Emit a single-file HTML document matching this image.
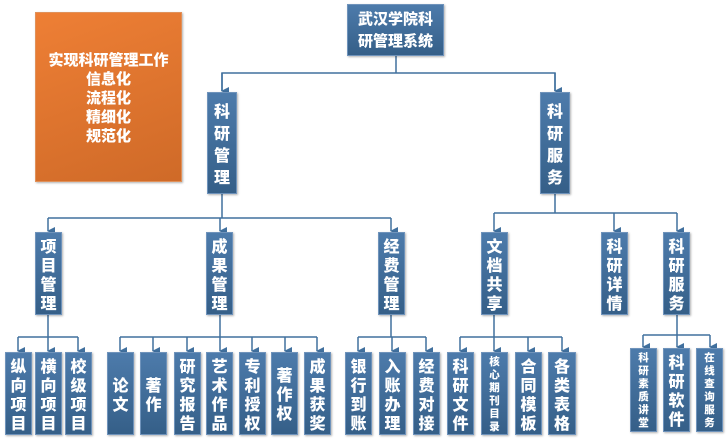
<!DOCTYPE html>
<html><head><meta charset="utf-8"><style>
body{margin:0;width:728px;height:443px;background:#fff;position:relative;overflow:hidden;font-family:"Noto Sans CJK SC","WenQuanYi Zen Hei",sans-serif}
.b{position:absolute;background:linear-gradient(180deg,#4d7bab,#355f88);border:1px solid #6f93bb;box-shadow:1px 1px 2px rgba(0,0,0,.3);color:#fff;font-weight:900;font-size:16px;line-height:19px;display:flex;align-items:center;justify-content:center;text-align:center;box-sizing:border-box}
.s{font-size:10.5px;line-height:13px}
svg{position:absolute;left:0;top:0}
</style></head><body>
<svg width="728" height="443">
<defs><marker id="a" markerWidth="8" markerHeight="8" refX="4" refY="7" orient="auto" markerUnits="userSpaceOnUse"><path d="M0,0 L8,0 L4,8 z" fill="#41709e"/></marker></defs>
<g stroke="#41709e" stroke-width="1.5" fill="none">
<path d="M396 56V73H222V91M396 73H555V91" />
<path d="M222 73V91" marker-end="url(#a)"/><path d="M555 73V91" marker-end="url(#a)"/>
<path d="M222 194V218M48 218H391M614 213H677M494 213H614M555 194V213"/>
<path d="M48 218V231" marker-end="url(#a)"/><path d="M220 218V231" marker-end="url(#a)"/><path d="M391 218V231" marker-end="url(#a)"/>
<path d="M494 213V231" marker-end="url(#a)"/><path d="M614 213V231" marker-end="url(#a)"/><path d="M677 213V231" marker-end="url(#a)"/>
<path d="M48 315V337H18M48 337H78M220 315V337H120M220 337H317M391 315V337H358M391 337H426M494 315V337H460M494 337H562M677 315V335H643M677 335H710"/>
<g>
<path d="M18 337V351" marker-end="url(#a)"/><path d="M48 337V351" marker-end="url(#a)"/><path d="M78 337V351" marker-end="url(#a)"/>
<path d="M120 337V351" marker-end="url(#a)"/><path d="M153 337V351" marker-end="url(#a)"/><path d="M187 337V351" marker-end="url(#a)"/><path d="M220 337V351" marker-end="url(#a)"/><path d="M252 337V351" marker-end="url(#a)"/><path d="M285 337V351" marker-end="url(#a)"/><path d="M317 337V351" marker-end="url(#a)"/>
<path d="M358 337V351" marker-end="url(#a)"/><path d="M392 337V351" marker-end="url(#a)"/><path d="M426 337V351" marker-end="url(#a)"/>
<path d="M460 337V351" marker-end="url(#a)"/><path d="M494 337V351" marker-end="url(#a)"/><path d="M528 337V351" marker-end="url(#a)"/><path d="M562 337V351" marker-end="url(#a)"/>
<path d="M643 335V347" marker-end="url(#a)"/><path d="M677 335V347" marker-end="url(#a)"/><path d="M710 335V347" marker-end="url(#a)"/>
</g></g></svg>
<div class="b" style="left:35px;top:12px;width:147px;height:170px;background:linear-gradient(160deg,#ee7f35,#cf6a28);border-color:#e0915a;font-size:15px;line-height:19px">实现科研管理工作<br>信息化<br>流程化<br>精细化<br>规范化</div>
<div class="b" style="left:347px;top:4px;width:97px;height:52px;font-size:15px;line-height:22px">武汉学院科<br>研管理系统</div>
<div class="b" style="left:207px;top:92px;width:30px;height:102px;line-height:22px">科<br>研<br>管<br>理</div>
<div class="b" style="left:540px;top:92px;width:30px;height:102px;line-height:22px">科<br>研<br>服<br>务</div>
<div class="b" style="left:35px;top:232px;width:27px;height:83px">项<br>目<br>管<br>理</div>
<div class="b" style="left:206px;top:232px;width:27px;height:83px">成<br>果<br>管<br>理</div>
<div class="b" style="left:378px;top:232px;width:27px;height:83px">经<br>费<br>管<br>理</div>
<div class="b" style="left:481px;top:232px;width:27px;height:83px">文<br>档<br>共<br>享</div>
<div class="b" style="left:601px;top:232px;width:27px;height:83px">科<br>研<br>详<br>情</div>
<div class="b" style="left:663px;top:232px;width:27px;height:83px">科<br>研<br>服<br>务</div>
<div class="b" style="left:5px;top:352px;width:27px;height:83px">纵<br>向<br>项<br>目</div>
<div class="b" style="left:35px;top:352px;width:27px;height:83px">横<br>向<br>项<br>目</div>
<div class="b" style="left:65px;top:352px;width:27px;height:83px">校<br>级<br>项<br>目</div>
<div class="b" style="left:107px;top:352px;width:27px;height:83px">论<br>文</div>
<div class="b" style="left:140px;top:352px;width:27px;height:83px">著<br>作</div>
<div class="b" style="left:174px;top:352px;width:27px;height:83px">研<br>究<br>报<br>告</div>
<div class="b" style="left:206px;top:352px;width:27px;height:83px">艺<br>术<br>作<br>品</div>
<div class="b" style="left:239px;top:352px;width:27px;height:83px">专<br>利<br>授<br>权</div>
<div class="b" style="left:271px;top:352px;width:27px;height:83px">著<br>作<br>权</div>
<div class="b" style="left:304px;top:352px;width:27px;height:83px">成<br>果<br>获<br>奖</div>
<div class="b" style="left:345px;top:352px;width:27px;height:83px">银<br>行<br>到<br>账</div>
<div class="b" style="left:379px;top:352px;width:27px;height:83px">入<br>账<br>办<br>理</div>
<div class="b" style="left:413px;top:352px;width:27px;height:83px">经<br>费<br>对<br>接</div>
<div class="b" style="left:447px;top:352px;width:27px;height:83px">科<br>研<br>文<br>件</div>
<div class="b s" style="left:481px;top:352px;width:27px;height:83px">核<br>心<br>期<br>刊<br>目<br>录</div>
<div class="b" style="left:515px;top:352px;width:27px;height:83px">合<br>同<br>模<br>板</div>
<div class="b" style="left:548px;top:352px;width:28px;height:83px">各<br>类<br>表<br>格</div>
<div class="b s" style="left:630px;top:348px;width:27px;height:84px">科<br>研<br>素<br>质<br>讲<br>堂</div>
<div class="b" style="left:663px;top:348px;width:27px;height:84px">科<br>研<br>软<br>件</div>
<div class="b s" style="left:696px;top:348px;width:27px;height:84px">在<br>线<br>查<br>询<br>服<br>务</div>
</body></html>
